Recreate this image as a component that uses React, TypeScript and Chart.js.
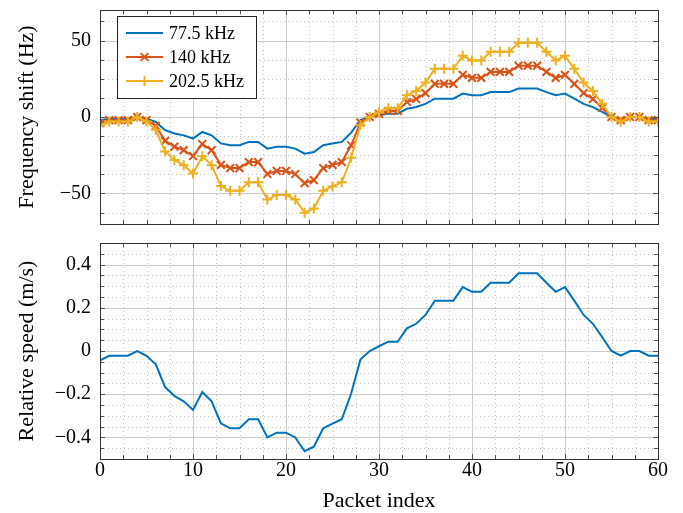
import React, { useEffect, useRef } from 'react';
import { Chart, registerables } from 'chart.js';
Chart.register(...registerables);

const packetIndex = Array.from({ length: 61 }, (_, i) => i);

const shift775 = [
  -2.2, -1.1, -1.1, -1.1, 0, -1.1, -3.2, -8.6, -10.8, -12.0,
  -14.1, -9.8, -12.0, -17.3, -18.5, -18.5, -16.3, -16.3, -20.7, -19.5,
  -19.5, -20.7, -24.0, -22.9, -18.5, -17.4, -16.3, -10.2, -2.1, 0,
  1.1, 2.2, 2.2, 5.4, 6.5, 8.6, 12.0, 12.0, 12.0, 15.3,
  14.2, 14.2, 16.3, 16.3, 16.3, 18.6, 18.6, 18.6, 16.3, 14.2,
  15.3, 12.0, 8.6, 6.5, 3.3, 0, -1.1, 0, 0, -1.1, -1.1,
];

const shift140 = [
  -4.0, -2.1, -2.1, -2.1, 0, -2.1, -5.8, -15.6, -19.4, -21.7,
  -25.5, -17.7, -21.7, -31.3, -33.4, -33.4, -29.5, -29.5, -37.3, -35.3,
  -35.3, -37.3, -43.3, -41.3, -33.4, -31.3, -29.5, -18.5, -3.7, 0,
  2.1, 4.0, 4.0, 9.8, 11.8, 15.6, 21.7, 21.7, 21.7, 27.6,
  25.6, 25.6, 29.5, 29.5, 29.5, 33.6, 33.6, 33.6, 29.5, 25.6,
  27.6, 21.7, 15.6, 11.8, 6.0, 0, -2.1, 0, 0, -2.1, -2.1,
];

const shift2025 = [
  -5.8, -3.0, -3.0, -3.0, 0, -3.0, -8.4, -22.5, -28.1, -31.5,
  -36.9, -25.7, -31.5, -45.2, -48.3, -48.3, -42.7, -42.7, -54.0, -51.0,
  -51.0, -54.0, -62.6, -59.8, -48.3, -45.4, -42.7, -26.7, -5.4, 0,
  3.0, 5.8, 5.8, 14.2, 17.0, 22.5, 31.5, 31.5, 31.5, 40.0,
  37.0, 37.0, 42.7, 42.7, 42.7, 48.6, 48.6, 48.6, 42.7, 37.0,
  40.0, 31.5, 22.5, 17.0, 8.6, 0, -3.0, 0, 0, -3.0, -3.0,
];

const speed = [
  -0.043, -0.022, -0.022, -0.022, 0, -0.022, -0.062, -0.167, -0.208, -0.233,
  -0.273, -0.19, -0.233, -0.335, -0.358, -0.358, -0.316, -0.316, -0.4, -0.378,
  -0.378, -0.4, -0.464, -0.443, -0.358, -0.336, -0.316, -0.198, -0.04, 0,
  0.022, 0.043, 0.043, 0.105, 0.126, 0.167, 0.233, 0.233, 0.233, 0.296,
  0.274, 0.274, 0.316, 0.316, 0.316, 0.36, 0.36, 0.36, 0.316, 0.274,
  0.296, 0.233, 0.167, 0.126, 0.064, 0, -0.022, 0, 0, -0.022, -0.022,
];

const xTicks = [0, 10, 20, 30, 40, 50, 60];
const shiftTicks = [-50, 0, 50];
const speedTicks = [-0.4, -0.2, 0, 0.2, 0.4];
const seriesLabels = ['77.5 kHz', '140 kHz', '202.5 kHz'];
const seriesColors = ['#0072BD', '#D95319', '#EDB120'];

const FONT = "'Liberation Serif', 'Times New Roman', serif";

function fmt(v: number) {
  const s = String(Math.round(v * 1000) / 1000);
  return s.startsWith('-') ? '\u2212' + s.slice(1) : s;
}

function positions(min: number, max: number, step: number) {
  const out: number[] = [];
  const k0 = Math.ceil(min / step - 1e-9);
  const k1 = Math.floor(max / step + 1e-9);
  for (let k = k0; k <= k1; k++) out.push(+(k * step).toFixed(6));
  return out;
}
function isMajor(v: number, major: number) {
  const r = v / major;
  return Math.abs(r - Math.round(r)) < 1e-6;
}

function framePlugin(xMinor: number, xMajor: number, yMinor: number, yMajor: number) {
  return {
    id: 'pgfFrame',
    beforeDatasetsDraw(chart: any) {
      const { ctx, chartArea, scales } = chart;
      const { left, right, top, bottom } = chartArea;
      const xs = scales.x, ys = scales.y;
      ctx.save();
      ctx.lineWidth = 1;
      ctx.strokeStyle = '#c4c4c4';
      ctx.setLineDash([1, 3]);
      ctx.beginPath();
      for (const v of positions(xs.min, xs.max, xMinor)) {
        if (isMajor(v, xMajor)) continue;
        const p = Math.round(xs.getPixelForValue(v)) + 0.5;
        ctx.moveTo(p, top); ctx.lineTo(p, bottom);
      }
      for (const v of positions(ys.min, ys.max, yMinor)) {
        if (isMajor(v, yMajor)) continue;
        const p = Math.round(ys.getPixelForValue(v)) + 0.5;
        ctx.moveTo(left, p); ctx.lineTo(right, p);
      }
      ctx.stroke();
      ctx.setLineDash([]);
      ctx.strokeStyle = '#cccccc';
      ctx.beginPath();
      for (const v of positions(xs.min, xs.max, xMajor)) {
        const p = Math.round(xs.getPixelForValue(v)) + 0.5;
        ctx.moveTo(p, top); ctx.lineTo(p, bottom);
      }
      for (const v of positions(ys.min, ys.max, yMajor)) {
        const p = Math.round(ys.getPixelForValue(v)) + 0.5;
        ctx.moveTo(left, p); ctx.lineTo(right, p);
      }
      ctx.stroke();
      ctx.restore();
    },
    afterDatasetsDraw(chart: any) {
      const { ctx, chartArea, scales } = chart;
      const { left, right, top, bottom } = chartArea;
      const xs = scales.x, ys = scales.y;
      ctx.save();
      ctx.lineWidth = 1;
      ctx.strokeStyle = '#505050';
      ctx.beginPath();
      for (const v of positions(xs.min, xs.max, xMinor)) {
        const len = isMajor(v, xMajor) ? 5 : 4;
        const p = Math.round(xs.getPixelForValue(v)) + 0.5;
        ctx.moveTo(p, bottom); ctx.lineTo(p, bottom - len);
        ctx.moveTo(p, top); ctx.lineTo(p, top + len);
      }
      for (const v of positions(ys.min, ys.max, yMinor)) {
        const len = isMajor(v, yMajor) ? 5 : 4;
        const p = Math.round(ys.getPixelForValue(v)) + 0.5;
        ctx.moveTo(left, p); ctx.lineTo(left + len, p);
        ctx.moveTo(right, p); ctx.lineTo(right - len, p);
      }
      ctx.stroke();
      ctx.strokeStyle = '#333333';
      ctx.strokeRect(Math.round(left) + 0.5, Math.round(top) + 0.5, Math.round(right - left), Math.round(bottom - top));
      ctx.restore();
    },
  };
}

const legendPlugin = {
  id: 'boxLegend',
  afterDraw(chart: any) {
    const { ctx } = chart;
    const bx = 117.5, by = 16.5, bw = 139, bh = 82;
    ctx.save();
    ctx.fillStyle = '#ffffff';
    ctx.fillRect(bx, by, bw, bh);
    ctx.strokeStyle = '#222222';
    ctx.lineWidth = 1;
    ctx.strokeRect(bx, by, bw, bh);
    const rowsY = [33, 57, 81];
    chart.data.datasets.forEach((ds: any, i: number) => {
      const y = rowsY[i];
      ctx.strokeStyle = ds.borderColor;
      ctx.lineWidth = 2;
      ctx.beginPath();
      ctx.moveTo(126, y); ctx.lineTo(163, y);
      ctx.stroke();
      const cx = 144.5;
      if (ds.pointStyle === 'crossRot') {
        const d = ds.pointRadius * Math.SQRT1_2;
        ctx.beginPath();
        ctx.moveTo(cx - d, y - d); ctx.lineTo(cx + d, y + d);
        ctx.moveTo(cx - d, y + d); ctx.lineTo(cx + d, y - d);
        ctx.stroke();
      } else if (ds.pointStyle === 'cross') {
        const r = ds.pointRadius;
        ctx.beginPath();
        ctx.moveTo(cx - r, y); ctx.lineTo(cx + r, y);
        ctx.moveTo(cx, y - r); ctx.lineTo(cx, y + r);
        ctx.stroke();
      }
      ctx.fillStyle = '#000';
      ctx.font = `18px ${FONT}`;
      ctx.textBaseline = 'middle';
      ctx.textAlign = 'left';
      ctx.fillText(ds.label, 169, y + 1);
    });
    ctx.restore();
  },
};

function toXY(values: number[]) {
  return values.map((y, i) => ({ x: packetIndex[i], y }));
}

const noPadY = (s: any) => { s.width = 100; s.paddingTop = 0; s.paddingBottom = 0; };

export default function App() {
  const topRef = useRef<HTMLCanvasElement>(null);
  const botRef = useRef<HTMLCanvasElement>(null);

  useEffect(() => {
    Chart.defaults.color = '#000';
    Chart.defaults.font.family = FONT;

    const yTitle = (text: string) => ({
      display: true,
      text,
      color: '#000',
      font: { size: 22, family: FONT },
      padding: { top: 14, bottom: 0 },
    });
    const tickFont = { size: 20, family: FONT };

    const top = new Chart(topRef.current!, {
      type: 'line',
      data: {
        datasets: [
          {
            label: seriesLabels[0], data: toXY(shift775), borderColor: seriesColors[0],
            backgroundColor: seriesColors[0], borderWidth: 2, pointRadius: 0, order: 3,
          },
          {
            label: seriesLabels[1], data: toXY(shift140), borderColor: seriesColors[1],
            backgroundColor: seriesColors[1], borderWidth: 2, pointStyle: 'crossRot',
            pointRadius: 5.5, pointBorderWidth: 2, pointBorderColor: seriesColors[1], order: 2,
          },
          {
            label: seriesLabels[2], data: toXY(shift2025), borderColor: seriesColors[2],
            backgroundColor: seriesColors[2], borderWidth: 2, pointStyle: 'cross',
            pointRadius: 5, pointBorderWidth: 2, pointBorderColor: seriesColors[2], order: 1,
          },
        ],
      },
      options: {
        responsive: false,
        animation: false,
        events: [],
        layout: { padding: { top: 10, right: 25, bottom: 11, left: 0 } },
        plugins: { legend: { display: false }, tooltip: { enabled: false } },
        scales: {
          x: {
            type: 'linear', min: 0, max: 60, display: false,
            afterBuildTicks: (s: any) => { s.ticks = xTicks.map((value) => ({ value })); },
          },
          y: {
            type: 'linear', min: -70, max: 70,
            grid: { display: false, drawTicks: false }, border: { display: false },
            afterBuildTicks: (s: any) => { s.ticks = shiftTicks.map((value) => ({ value })); },
            afterFit: noPadY,
            ticks: { padding: 9, color: '#000', font: tickFont, callback: (v: any) => fmt(Number(v)) },
            title: yTitle('Frequency shift (Hz)'),
          },
        },
      } as any,
      plugins: [framePlugin(2.5, 10, 12.5, 50), legendPlugin],
    });

    const bot = new Chart(botRef.current!, {
      type: 'line',
      data: {
        datasets: [
          {
            label: 'Relative speed', data: toXY(speed), borderColor: seriesColors[0],
            backgroundColor: seriesColors[0], borderWidth: 2, pointRadius: 0,
          },
        ],
      },
      options: {
        responsive: false,
        animation: false,
        events: [],
        layout: { padding: { top: 8, right: 25, bottom: 0, left: 0 } },
        plugins: { legend: { display: false }, tooltip: { enabled: false } },
        scales: {
          x: {
            type: 'linear', min: 0, max: 60,
            grid: { display: false, drawTicks: false }, border: { display: false },
            afterBuildTicks: (s: any) => { s.ticks = xTicks.map((value) => ({ value })); },
            afterFit: (s: any) => { s.height = 54; s.paddingLeft = 0; s.paddingRight = 0; },
            ticks: { padding: 0, maxRotation: 0, color: '#000', font: tickFont, callback: (v: any) => fmt(Number(v)) },
            title: {
              display: true, text: 'Packet index', color: '#000',
              font: { size: 22, family: FONT }, padding: { top: 0, bottom: -1 },
            },
          },
          y: {
            type: 'linear', min: -0.5, max: 0.5,
            grid: { display: false, drawTicks: false }, border: { display: false },
            afterBuildTicks: (s: any) => { s.ticks = speedTicks.map((value) => ({ value })); },
            afterFit: noPadY,
            ticks: { padding: 9, color: '#000', font: tickFont, callback: (v: any) => fmt(Number(v)) },
            title: yTitle('Relative speed (m/s)'),
          },
        },
      } as any,
      plugins: [framePlugin(2.5, 10, 0.05, 0.2)],
    });

    return () => { top.destroy(); bot.destroy(); };
  }, []);

  return (
    <div style={{ position: 'absolute', left: 0, top: 0, width: 683, height: 513, background: '#fff' }}>
      <canvas ref={topRef} width={683} height={235} style={{ position: 'absolute', left: 0, top: 0, display: 'block' }} />
      <canvas ref={botRef} width={683} height={278} style={{ position: 'absolute', left: 0, top: 235, display: 'block' }} />
    </div>
  );
}
